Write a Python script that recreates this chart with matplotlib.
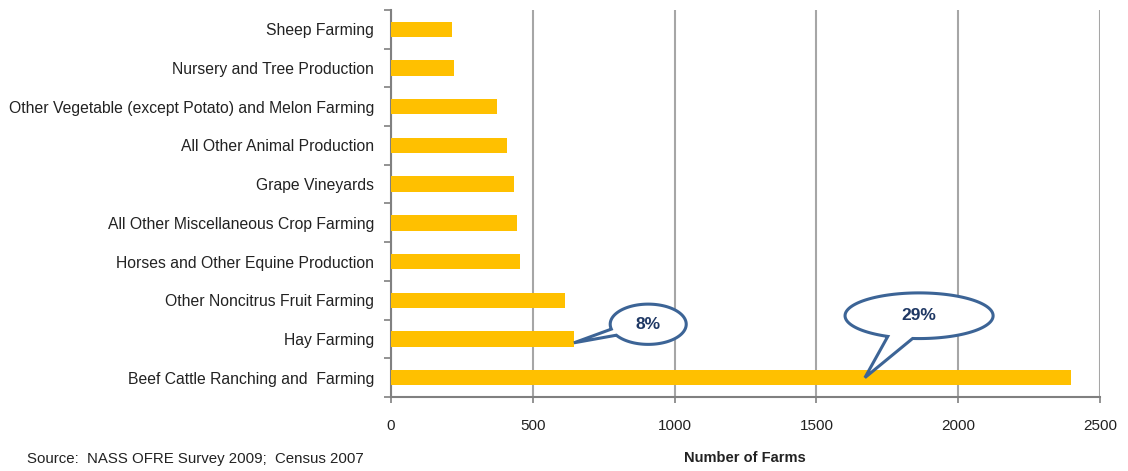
#!/usr/bin/env python

import matplotlib.pyplot as plt
import numpy as np
from matplotlib.path import Path
from matplotlib.patches import PathPatch

# farm counts by type, bottom to top
categories = [
    'Beef Cattle Ranching and  Farming',
    'Hay Farming',
    'Other Noncitrus Fruit Farming',
    'Horses and Other Equine Production',
    'All Other Miscellaneous Crop Farming',
    'Grape Vineyards',
    'All Other Animal Production',
    'Other Vegetable (except Potato) and Melon Farming',
    'Nursery and Tree Production',
    'Sheep Farming',
]
farms = [2398, 645, 614, 455, 444, 434, 409, 374, 222, 215]

# share labels shown in speech bubbles
bubble_labels = ['8%', '29%']

plt.rcParams['font.family'] = ['Liberation Sans', 'DejaVu Sans']

BAR = '#FFC000'
GRID = '#A6A6A6'
BUBBLE = '#3C6496'
TEXT_NAVY = '#1F3864'


def bubble(ax, cx, cy, a, b, t1, t2, tip, label):
    # ellipse outline with a wedge-shaped tail between angles t1 and t2
    th = np.radians(np.linspace(t2, t1 + 360, 200))
    xs = cx + a * np.cos(th)
    ys = cy + b * np.sin(th)
    verts = list(zip(xs, ys)) + [tip, (xs[0], ys[0])]
    codes = [Path.MOVETO] + [Path.LINETO] * (len(verts) - 2) + [Path.CLOSEPOLY]
    ax.add_patch(PathPatch(Path(verts, codes), facecolor='white',
                           edgecolor=BUBBLE, lw=2.2, zorder=5))
    ax.text(cx, cy, label, ha='center', va='center', fontsize=12.5,
            fontweight='bold', color=TEXT_NAVY, zorder=6)


fig = plt.figure(figsize=(11.28, 4.71), dpi=100)
ax = fig.add_axes([0.3466, 0.1571, 0.6286, 0.8217])

y = np.arange(len(categories))
ax.barh(y, farms, height=0.4, color=BAR, zorder=3)

ax.set_xlim(0, 2500)
ax.set_ylim(-0.5, len(categories) - 0.5)
ax.set_xticks(np.arange(0, 2501, 500))
ax.set_yticks(y)
ax.set_yticklabels(categories, fontsize=11.3, color='#222222')
ax.set_yticks(np.arange(-0.5, len(categories), 1), minor=True)
ax.tick_params(axis='y', which='major', length=0, pad=12)
ax.tick_params(axis='y', which='minor', length=5, color='#808080', width=1.2)
ax.tick_params(axis='x', length=4, color='#808080', width=1.2, labelsize=11,
               labelcolor='#222222', pad=12)
ax.xaxis.grid(True, color=GRID, lw=1.5, zorder=0)

for side in ['top', 'right']:
    ax.spines[side].set_visible(False)
for side in ['left', 'bottom']:
    ax.spines[side].set_color('#808080')
    ax.spines[side].set_linewidth(1.5)

# 8% bubble pointing at the end of the Hay Farming bar
bubble(ax, 907, 1.38, 134, 0.52, 194, 213, (farms[1], 0.9), bubble_labels[0])

# 29% bubble pointing into the Beef Cattle bar
bubble(ax, 1862, 1.60, 261, 0.59, 245, 265, (1671, 0.0), bubble_labels[1])

fig.text(0.6605, 0.012, 'Number of Farms', ha='center', va='bottom',
         fontsize=10.5, fontweight='bold', color='#222222')
fig.text(0.024, 0.01, 'Source:  NASS OFRE Survey 2009;  Census 2007', ha='left',
         va='bottom', fontsize=10.8, color='#222222')

fig.savefig('out.png', dpi=100)
